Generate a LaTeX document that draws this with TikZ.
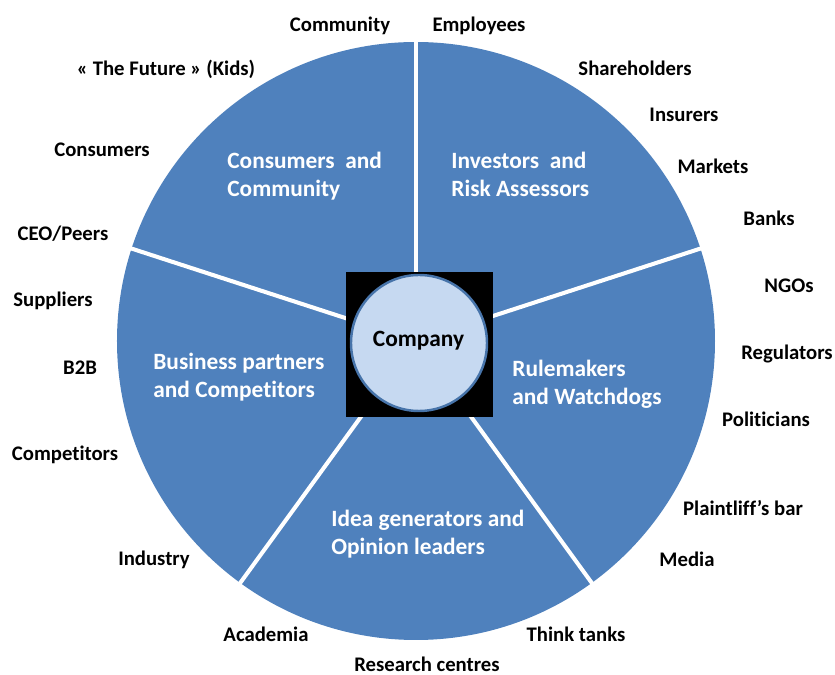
\documentclass[tikz,border=0pt]{standalone}
\usepackage{fontspec}
\setmainfont{Carlito}[Ligatures=NoCommon]

\definecolor{wheelblue}{HTML}{4F81BD}
\definecolor{hubfill}{HTML}{C6D9F1}

\tikzset{
  group/.style={text=white, font=\fontsize{13.3}{16.5}\selectfont\bfseries,
    align=left, anchor=base west, inner sep=0pt},
  party/.style={font=\fontsize{11.8}{14}\selectfont\bfseries,
    anchor=base, inner sep=0pt},
}

\begin{document}
\begin{tikzpicture}[x=0.02cm, y=0.02cm]
  \useasboundingbox (-416,-334) rectangle (419,341);

  % Wheel of five stakeholder groups
  \fill[wheelblue] (0,0) circle (299);
  \foreach \a in {18,90,162,234,306}
    \draw[white, line width=2.3pt] (0,0) -- (\a:300);

  % (base anchor sits on the last line)
  \node[group] (consumers) at (-189,144) {Consumers~ and\\Community};
  \node[group] (investors) at (35,144) {Investors~ and\\Risk Assessors};
  \node[group] (business) at (-263,-57) {Business partners\\and Competitors};
  \node[group] (rulemakers) at (96,-64) {Rulemakers\\and Watchdogs};
  \node[group] (ideas) at (-85,-214) {Idea generators and\\Opinion leaders};

  % Hub
  \fill (-70,-76) rectangle (77,69);
  \draw[wheelblue!90!black, line width=1.4pt, fill=hubfill] (3,-2) circle (68);
  \node[font=\fontsize{13.3}{16}\selectfont\bfseries, anchor=base, inner sep=0pt]
    (company) at (2.5,-6) {Company};

  % Stakeholders around the wheel
  \node[party] (community) at (-76,309) {Community};
  \node[party] (employees) at (63,309) {Employees};
  \node[party] (future) at (-250,265) {« The Future » (Kids)};
  \node[party] (consumer) at (-314,184) {Consumers};
  \node[party] (ceo) at (-353,100) {CEO/Peers};
  \node[party] (suppliers) at (-363,34) {Suppliers};
  \node[party] (btob) at (-336,-34) {B2B};
  \node[party] (competitors) at (-351,-120) {Competitors};
  \node[party] (industry) at (-262,-225) {Industry};
  \node[party] (academia) at (-150,-301) {Academia};
  \node[party] (research) at (11,-331) {Research centres};
  \node[party] (thinktanks) at (160,-301) {Think tanks};
  \node[party] (media) at (271,-226) {Media};
  \node[party] (bar) at (327,-175) {Plaintliff’s bar};
  \node[party] (politicians) at (350,-86) {Politicians};
  \node[party] (regulators) at (371,-19) {Regulators};
  \node[party] (ngos) at (373,48) {NGOs};
  \node[party] (banks) at (353,115) {Banks};
  \node[party] (markets) at (297,167) {Markets};
  \node[party] (insurers) at (268,219) {Insurers};
  \node[party] (shareholders) at (219,265) {Shareholders};
\end{tikzpicture}
\end{document}
